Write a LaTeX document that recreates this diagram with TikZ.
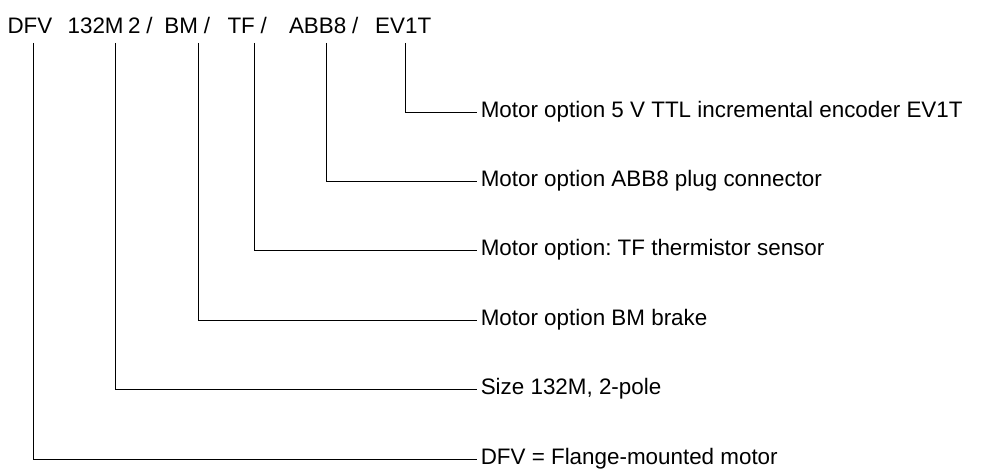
\documentclass[tikz,border=0pt]{standalone}
\usepackage{fontspec}
\setmainfont{Liberation Sans}
\frenchspacing
\begin{document}
\begin{tikzpicture}[x=0.75pt,y=-0.75pt,
  tok/.style={anchor=base west,inner sep=0pt,outer sep=0pt,font=\fontsize{16.8pt}{20pt}\selectfont},
  lab/.style={anchor=west,inner xsep=3.2pt,inner ysep=0pt,outer sep=0pt,text height=7.5pt,text depth=0pt,font=\fontsize{16.8pt}{20pt}\selectfont\frenchspacing},
  conn/.style={draw=black,line width=0.75pt}]
\useasboundingbox (0,0) rectangle (999,470);
% title tokens
\node[tok] (tDFV) at (7.5,33.3) {DFV};
\node[tok] (t132) at (67.6,33.3) {132M};
\node[tok] (t2) at (128,33.3) {2};
\node[tok] (s1) at ([xshift=4.4pt]t2.base east) {/};
\node[tok] (tBM) at (164.4,33.3) {BM};
\node[tok] (s2) at ([xshift=4.4pt]tBM.base east) {/};
\node[tok] (tTF) at (227.5,33.3) {TF};
\node[tok] (s3) at ([xshift=4.4pt]tTF.base east) {/};
\node[tok] (tABB) at (289,33.3) {ABB8};
\node[tok] (s4) at ([xshift=4.4pt]tABB.base east) {/};
\node[tok] (tEV) at (375.2,33.3) {EV1T};
% line tops
\coordinate (vDFV) at (33,43);
\coordinate (v132) at (115,43);
\coordinate (vBM) at (198,43);
\coordinate (vTF) at (254,43);
\coordinate (vABB) at (326,43);
\coordinate (vEV) at (405.7,43);
% labels
\node[lab] (l1) at (476.5,112.3) {Motor option 5 V TTL incremental encoder EV1T};
\node[lab] (l2) at (476.5,181.6) {Motor option ABB8 plug connector};
\node[lab] (l3) at (476.5,251) {Motor option: TF thermistor sensor};
\node[lab] (l4) at (476.5,320.3) {Motor option BM brake};
\node[lab] (l5) at (476.5,389.7) {Size 132M, 2-pole};
\node[lab] (l6) at (476.5,459) {DFV = Flange-mounted motor};
% connectors
\draw[conn] (vEV) |- (l1.west);
\draw[conn] (vABB) |- (l2.west);
\draw[conn] (vTF) |- (l3.west);
\draw[conn] (vBM) |- (l4.west);
\draw[conn] (v132) |- (l5.west);
\draw[conn] (vDFV) |- (l6.west);
\end{tikzpicture}
\end{document}
